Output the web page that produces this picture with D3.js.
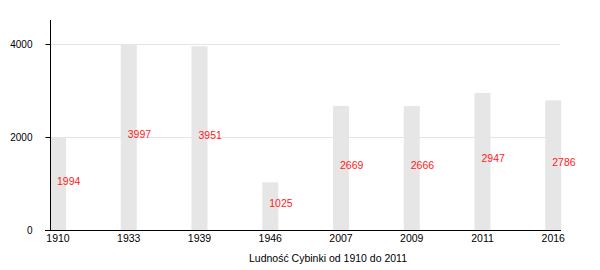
<!DOCTYPE html>
<html><head><meta charset="utf-8">
<script src="https://cdn.jsdelivr.net/npm/d3@7"></script>
<style>
body{margin:0;background:#fff;}
text{font-family:"Liberation Sans",Arial,sans-serif;}
</style></head>
<body><svg id="c" width="600" height="270"></svg>
<script>
const years = ["1910","1933","1939","1946","2007","2009","2011","2016"];
const population = [1994,3997,3951,1025,2669,2666,2947,2786];
const yTicks = [0,2000,4000];
const title = "Ludność Cybinki od 1910 do 2011";

const svg = d3.select("#c");
const x = d3.scaleBand().domain(years).range([50,616]).padding(0);
const y = d3.scaleLinear().domain([0,4500]).range([230,20.75]);
const barW = 16;

// gridlines
svg.append("g").selectAll("line").data(yTicks.filter(d=>d>0)).join("line")
  .attr("x1",50).attr("x2",560).attr("y1",d=>Math.round(y(d))+0.5).attr("y2",d=>Math.round(y(d))+0.5)
  .attr("stroke","#e4e4e4").attr("stroke-width",1);

// bars
svg.append("g").selectAll("rect").data(years).join("rect")
  .attr("x",d=>x(d)).attr("width",barW)
  .attr("y",(d,i)=>y(population[i])).attr("height",(d,i)=>y(0)-y(population[i]))
  .attr("fill","#e6e6e6");

// value labels
svg.append("g").selectAll("text").data(years).join("text")
  .attr("x",d=>x(d)+barW/2-1).attr("y",(d,i)=>(y(population[i])+y(0))/2+1)
  .attr("fill","#ff1a1a").attr("font-size","10.5px")
  .text((d,i)=>population[i]);

// y axis
const ya = svg.append("g").attr("transform","translate(50.5,0)")
  .call(d3.axisLeft(y).tickValues(yTicks).tickSize(5).tickPadding(13).tickFormat(d3.format("d")));
ya.select(".domain").attr("d","M0,20V230").attr("stroke","#000");
ya.selectAll("text").attr("font-size","10px").attr("fill","#000").style("font-family","'Liberation Sans',Arial,sans-serif");

// x axis
const xa = svg.append("g").attr("transform","translate(0,230.5)")
  .call(d3.axisBottom(x).tickSize(0).tickPadding(4));
xa.select(".domain").remove();
xa.selectAll(".tick").attr("transform",d=>`translate(${x(d)+barW/2},0)`);
xa.selectAll("text").attr("font-size","10.5px").attr("fill","#000").style("font-family","'Liberation Sans',Arial,sans-serif");
svg.append("line").attr("x1",45).attr("x2",561).attr("y1",230.5).attr("y2",230.5).attr("stroke","#000");

// title
svg.append("text").attr("x",328).attr("y",262).attr("text-anchor","middle")
  .attr("font-size","10.5px").attr("fill","#000").text(title);
</script></body></html>
